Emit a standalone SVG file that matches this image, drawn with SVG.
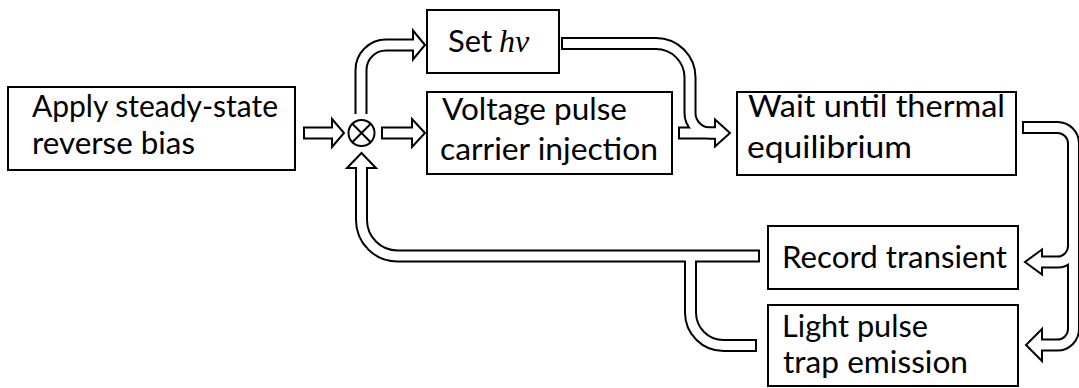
<svg xmlns="http://www.w3.org/2000/svg" width="1079" height="388" viewBox="0 0 1079 388">
<style>
.box{fill:#fff;stroke:#000;stroke-width:2}
.t{font-family:Lato,"Liberation Sans",sans-serif;font-size:30px;fill:#000}
.m{font-family:"Liberation Serif",serif;font-style:italic;font-size:32px}
.sb{fill:none;stroke:#000;stroke-width:13;stroke-linecap:butt;stroke-linejoin:round}
.sw{fill:none;stroke:#fff;stroke-width:9;stroke-linecap:butt;stroke-linejoin:round}
.hd{fill:#fff;stroke:#000;stroke-width:2;stroke-linejoin:miter}
</style>
<rect width="1079" height="388" fill="#fff"/>
<g id="connectors">
  <path class="sb" d="M303,133 H332"/>
  <path class="sb" d="M381,133 H412"/>
  <path class="sb" d="M361,114 V70 A25,25 0 0 1 386,45 H413"/>
  <path class="sb" d="M561,43.5 H656 A34,34 0 0 1 690,77.5 V113 A20,20 0 0 0 710,133 H715"/>
  <path class="sb" d="M678,133 H715"/>
  <path class="sb" d="M1022,127.5 H1057.5 A16,16 0 0 1 1073.5,143.5 V246 A16,16 0 0 1 1057.5,262 H1042"/>
  <path class="sb" d="M1073.5,240 V329 A16,16 0 0 1 1057.5,345 H1042"/>
  <path class="sb" d="M760,256 H397.5 A36,36 0 0 1 361.5,220 V168"/>
  <path class="sb" d="M757,345.5 H723.5 A33,33 0 0 1 690.5,312.5 V256"/>
  <polygon class="hd" points="332,119 344,133 332,147"/>
  <polygon class="hd" points="412,119 425,133 412,147"/>
  <polygon class="hd" points="413,30.5 425,45 413,59.5"/>
  <polygon class="hd" points="715,119.5 730,133 715,146.5"/>
  <polygon class="hd" points="1042,249.5 1025,262 1042,274.5"/>
  <polygon class="hd" points="1042,329 1026,345 1042,361"/>
  <polygon class="hd" points="347,168 361.5,153 376,168"/>
  <path class="sw" d="M305,133 H334"/>
  <path class="sw" d="M383,133 H414"/>
  <path class="sw" d="M361,116 V70 A25,25 0 0 1 386,45 H415"/>
  <path class="sw" d="M563,43.5 H656 A34,34 0 0 1 690,77.5 V113 A20,20 0 0 0 710,133 H717"/>
  <path class="sw" d="M680,133 H717"/>
  <path class="sw" d="M1024,127.5 H1057.5 A16,16 0 0 1 1073.5,143.5 V246 A16,16 0 0 1 1057.5,262 H1040"/>
  <path class="sw" d="M1073.5,240 V329 A16,16 0 0 1 1057.5,345 H1040"/>
  <path class="sw" d="M758,256 H397.5 A36,36 0 0 1 361.5,220 V166"/>
  <path class="sw" d="M755,345.5 H723.5 A33,33 0 0 1 690.5,312.5 V256"/>
</g>
<g id="sum">
  <circle cx="361.5" cy="133" r="13" fill="#fff" stroke="#000" stroke-width="2"/>
  <path d="M352.3,123.8 L370.7,142.2 M370.7,123.8 L352.3,142.2" stroke="#000" stroke-width="2"/>
</g>
<g id="apply">
  <rect class="box" x="8" y="87" width="287" height="83"/>
  <text class="t" x="32" y="117" textLength="246" lengthAdjust="spacingAndGlyphs">Apply steady-state</text>
  <text class="t" x="32" y="154" textLength="163" lengthAdjust="spacingAndGlyphs">reverse bias</text>
</g>
<g id="sethv">
  <rect class="box" x="427" y="10" width="132" height="63"/>
  <text class="t" x="448" y="52"><tspan textLength="44" lengthAdjust="spacingAndGlyphs">Set</tspan><tspan class="m" x="499">hν</tspan></text>
</g>
<g id="voltage">
  <rect class="box" x="427" y="92" width="245" height="82"/>
  <text class="t" x="442" y="120" textLength="185" lengthAdjust="spacingAndGlyphs">Voltage pulse</text>
  <text class="t" x="440" y="160" textLength="218" lengthAdjust="spacingAndGlyphs">carrier injection</text>
</g>
<g id="wait">
  <rect class="box" x="737" y="92" width="279" height="83"/>
  <text class="t" x="748" y="117" textLength="257" lengthAdjust="spacingAndGlyphs">Wait until thermal</text>
  <text class="t" x="747" y="158" textLength="165" lengthAdjust="spacingAndGlyphs">equilibrium</text>
</g>
<g id="record">
  <rect class="box" x="768" y="226" width="250" height="63"/>
  <text class="t" x="782" y="268" textLength="225" lengthAdjust="spacingAndGlyphs">Record transient</text>
</g>
<g id="light">
  <rect class="box" x="768" y="305" width="250" height="81"/>
  <text class="t" x="782" y="337" textLength="146" lengthAdjust="spacingAndGlyphs">Light pulse</text>
  <text class="t" x="783" y="373" textLength="185" lengthAdjust="spacingAndGlyphs">trap emission</text>
</g>
</svg>
